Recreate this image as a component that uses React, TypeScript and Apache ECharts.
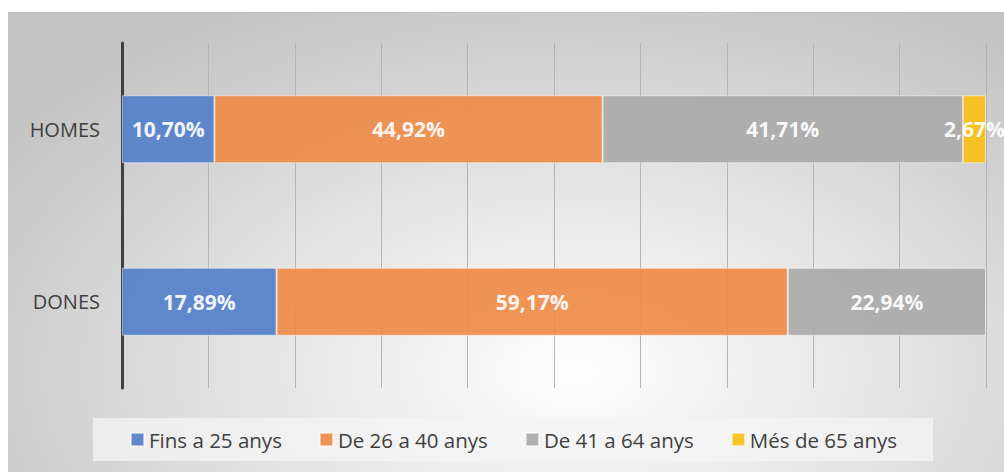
import React, { useEffect, useRef } from "react";
import * as echarts from "echarts";

const categories = ["HOMES", "DONES"];
const seriesNames = ["Fins a 25 anys", "De 26 a 40 anys", "De 41 a 64 anys", "Més de 65 anys"];
const fins25 = [10.7, 17.89];
const de26a40 = [44.92, 59.17];
const de41a64 = [41.71, 22.94];
const mes65 = [2.67, null];
const seriesValues = [fins25, de26a40, de41a64, mes65];
const colors = ["#5581CA", "#EF8B4A", "#AAAAAA", "#F8C01A"];

const FONT = "'Open Sans', 'Noto Sans', sans-serif";

export default function App() {
  const ref = useRef<HTMLDivElement>(null);
  useEffect(() => {
    if (!ref.current) return;
    const chart = echarts.init(ref.current, undefined, { renderer: "svg" });
    chart.setOption({
      animation: false,
      textStyle: { fontFamily: FONT },
      grid: { left: 114, right: 18, top: 30, bottom: 84, containLabel: false },
      xAxis: {
        type: "value",
        min: 0,
        max: 100,
        interval: 10,
        axisLabel: { show: false },
        axisLine: { show: false },
        axisTick: { show: false },
        splitLine: { show: true, lineStyle: { color: "#b4b4b4", width: 1 } },
      },
      yAxis: {
        type: "category",
        data: categories,
        inverse: true,
        axisLine: { show: true, lineStyle: { color: "#404040", width: 3 } },
        axisTick: { show: false },
        axisLabel: { color: "#404040", fontSize: 20, margin: 22, fontFamily: FONT },
      },
      legend: {
        left: 85,
        top: 405,
        padding: [11, 36, 11, 37],
        backgroundColor: "rgba(244,244,244,0.75)",
        itemWidth: 13,
        itemHeight: 13,
        itemGap: 37,
        icon: "rect",
        textStyle: { color: "#404040", fontSize: 20.5, fontFamily: FONT },
        data: seriesNames,
      },
      series: seriesNames.map((name, i) => ({
        name,
        type: "bar",
        stack: "total",
        data: seriesValues[i],
        barWidth: 68,
        itemStyle: {
          color: colors[i],
          opacity: 0.93,
          borderColor: "rgba(255,255,255,0.55)",
          borderWidth: 1,
        },
        label: {
          show: true,
          position: "inside",
          color: "#ffffff",
          fontSize: 21,
          fontWeight: "bold",
          fontFamily: FONT,
          formatter: (p: any) =>
            p.value == null ? "" : Number(p.value).toFixed(2).replace(".", ",") + "%",
        },
      })),
    });
    return () => chart.dispose();
  }, []);
  return (
    <div
      ref={ref}
      style={{
        position: "absolute",
        left: 8,
        top: 12,
        width: 996,
        height: 460,
        borderTop: "1px solid #bdbdbd",
        boxSizing: "border-box",
        background:
          "radial-gradient(ellipse 70% 90% at 57% 78%, #ffffff 0%, #f2f2f2 20%, #e2e2e2 50%, #cfcfcf 80%, #c4c4c4 100%)",
      }}
    />
  );
}
